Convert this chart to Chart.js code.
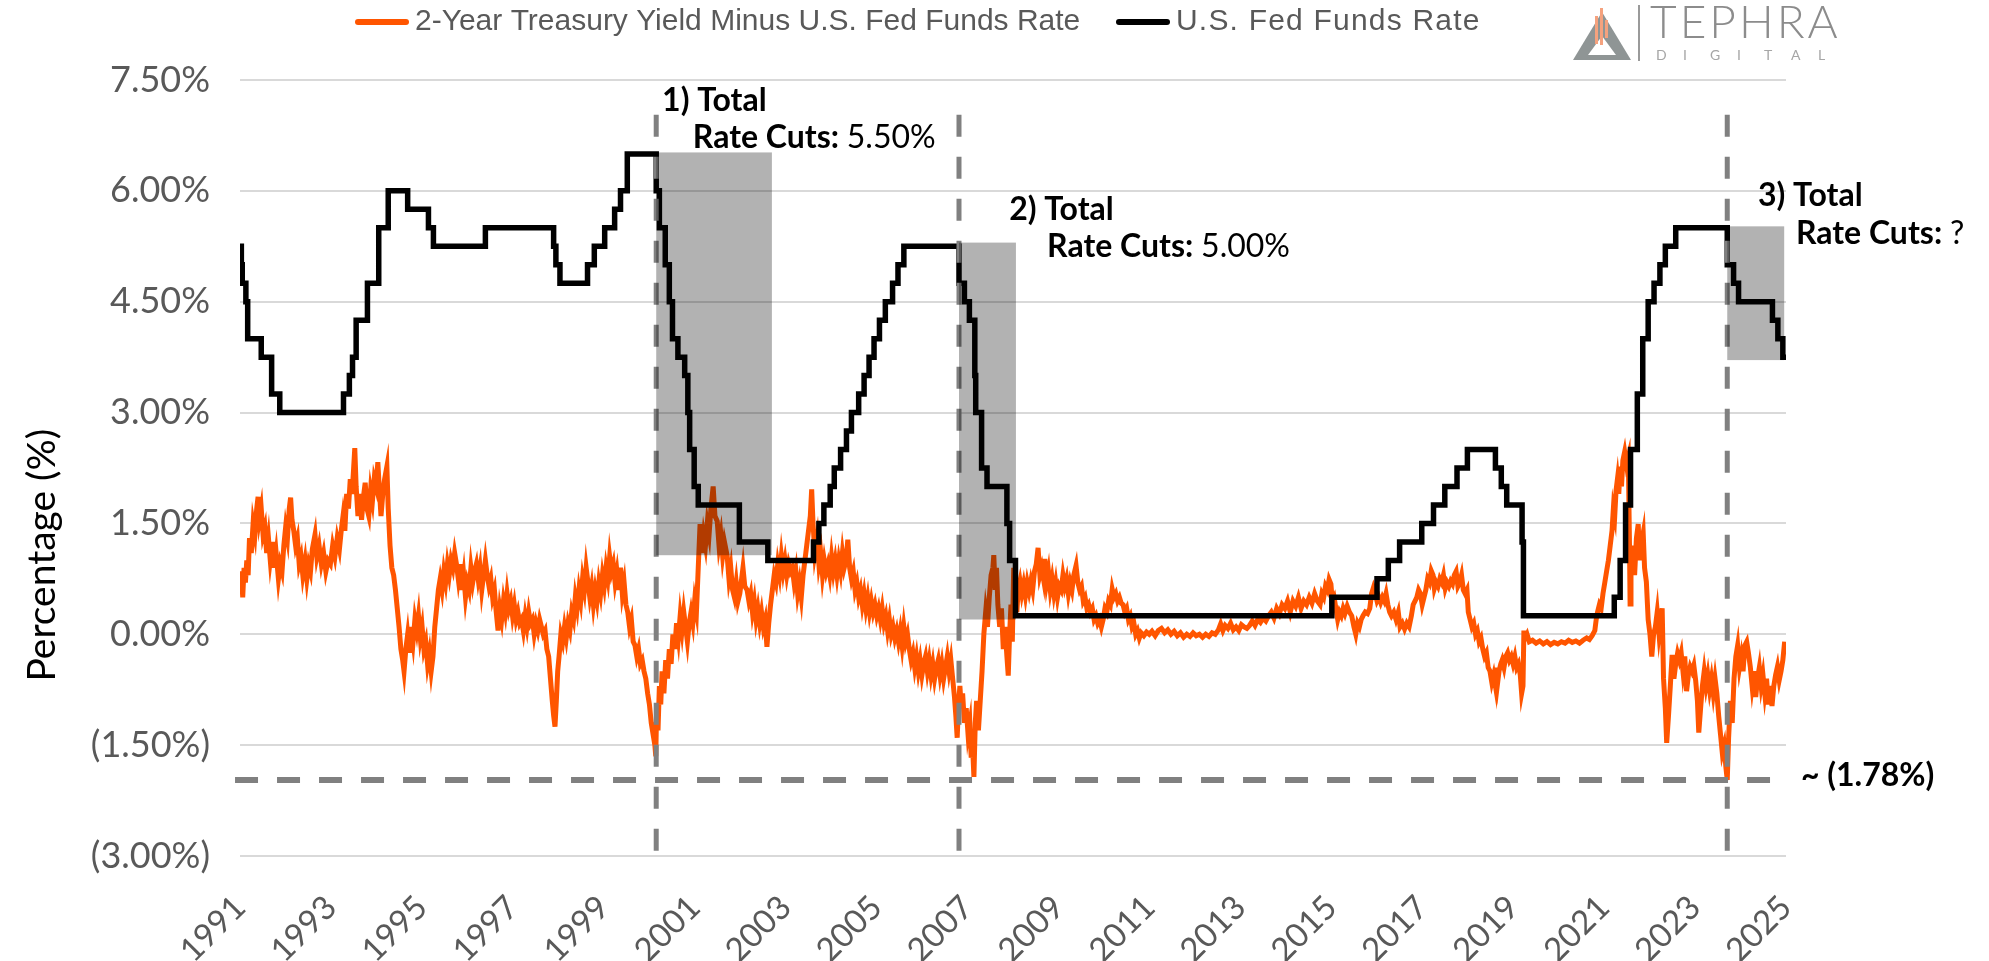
<!DOCTYPE html>
<html>
<head>
<meta charset="utf-8">
<title>2-Year Treasury Yield Minus Fed Funds Rate</title>
<script src="https://cdn.jsdelivr.net/npm/chart.js@4.4.1/dist/chart.umd.min.js"></script>
<style>
  html, body { margin: 0; padding: 0; background: #fff; }
  #wrap { width: 1989px; height: 961px; }
</style>
</head>
<body>
<div id="wrap"><canvas id="chart" width="1989" height="961"></canvas></div>
<script>
// Axis range (decimal years) and the labels Excel printed along it
const XMIN = 1991.80;
const XMAX = 2026.01;
const xTickLabels = ['1991', '1993', '1995', '1997', '1999', '2001', '2003', '2005', '2007',
    '2009', '2011', '2013', '2015', '2017', '2019', '2021', '2023', '2025'];

// U.S. Fed Funds target rate (upper bound): [date of change, new rate]
const fedSteps = [
    [1991.80, 5.25], [1991.83, 5.0], [1991.85, 4.75], [1991.93, 4.5], [1991.97, 4.0],
    [1992.27, 3.75], [1992.50, 3.25], [1992.68, 3.0],
    [1994.09, 3.25], [1994.22, 3.5], [1994.29, 3.75], [1994.37, 4.25], [1994.62, 4.75], [1994.87, 5.5],
    [1995.08, 6.0], [1995.51, 5.75], [1995.97, 5.5], [1996.08, 5.25], [1997.23, 5.5],
    [1998.74, 5.25], [1998.79, 5.0], [1998.88, 4.75],
    [1999.49, 5.0], [1999.64, 5.25], [1999.87, 5.5], [2000.09, 5.75], [2000.22, 6.0], [2000.37, 6.5],
    [2001.01, 6.0], [2001.08, 5.5], [2001.21, 5.0], [2001.30, 4.5], [2001.37, 4.0], [2001.49, 3.75],
    [2001.64, 3.5], [2001.71, 3.0], [2001.75, 2.5], [2001.85, 2.0], [2001.94, 1.75],
    [2002.85, 1.25], [2003.48, 1.0],
    [2004.49, 1.25], [2004.61, 1.5], [2004.72, 1.75], [2004.86, 2.0], [2004.95, 2.25],
    [2005.09, 2.5], [2005.22, 2.75], [2005.33, 3.0], [2005.49, 3.25], [2005.61, 3.5], [2005.72, 3.75],
    [2005.83, 4.0], [2005.95, 4.25], [2006.08, 4.5], [2006.24, 4.75], [2006.36, 5.0], [2006.49, 5.25],
    [2007.71, 4.75], [2007.83, 4.5], [2007.94, 4.25], [2008.06, 3.5], [2008.08, 3.0], [2008.21, 2.25],
    [2008.33, 2.0], [2008.77, 1.5], [2008.83, 1.0], [2008.96, 0.25],
    [2015.96, 0.5], [2016.96, 0.75], [2017.21, 1.0], [2017.46, 1.25], [2017.95, 1.5],
    [2018.21, 1.75], [2018.46, 2.0], [2018.73, 2.25], [2018.96, 2.5],
    [2019.58, 2.25], [2019.71, 2.0], [2019.83, 1.75], [2020.17, 1.25], [2020.20, 0.25],
    [2022.21, 0.5], [2022.34, 1.0], [2022.46, 1.75], [2022.57, 2.5], [2022.72, 3.25], [2022.84, 4.0],
    [2022.96, 4.5], [2023.09, 4.75], [2023.22, 5.0], [2023.34, 5.25], [2023.57, 5.5],
    [2024.71, 5.0], [2024.85, 4.75], [2024.96, 4.5], [2025.71, 4.25], [2025.83, 4.0], [2025.94, 3.75],
    [2026.01, 3.75]
];

// 2-Year Treasury yield minus Fed Funds rate: [date, spread %]
const spreadPoints = [
    [1991.80, 0.55], [1991.83, 0.85], [1991.86, 0.5], [1991.89, 0.9], [1991.92, 0.7], [1991.95, 1.0],
    [1991.98, 0.8], [1992.01, 1.3], [1992.05, 1.1], [1992.09, 1.5], [1992.13, 1.35], [1992.17, 1.7],
    [1992.20, 1.86], [1992.23, 1.55], [1992.27, 1.7], [1992.31, 1.35], [1992.35, 1.45], [1992.39, 1.1],
    [1992.43, 1.3], [1992.47, 1.0], [1992.52, 1.25], [1992.56, 0.9], [1992.60, 1.1], [1992.65, 0.75],
    [1992.69, 0.95], [1992.73, 0.85], [1992.77, 1.2], [1992.81, 1.45], [1992.85, 1.3], [1992.89, 1.7],
    [1992.92, 1.85], [1992.95, 1.55], [1992.99, 1.4], [1993.03, 1.2], [1993.07, 1.3], [1993.11, 0.95],
    [1993.15, 1.05], [1993.19, 0.8], [1993.24, 1.0], [1993.28, 0.75], [1993.32, 0.95], [1993.36, 0.85],
    [1993.40, 1.15], [1993.46, 1.35], [1993.50, 1.05], [1993.55, 1.2], [1993.60, 0.95], [1993.65, 1.1],
    [1993.70, 0.85], [1993.75, 1.0], [1993.80, 0.95], [1993.85, 1.2], [1993.90, 1.05], [1993.95, 1.3],
    [1994.00, 1.15], [1994.04, 1.4], [1994.08, 1.6], [1994.12, 1.4], [1994.16, 1.9], [1994.20, 1.7],
    [1994.24, 2.1], [1994.28, 1.9], [1994.31, 2.2], [1994.34, 2.52], [1994.37, 2.0], [1994.41, 1.6],
    [1994.45, 1.9], [1994.49, 1.55], [1994.53, 1.85], [1994.57, 2.05], [1994.61, 1.7], [1994.65, 1.6],
    [1994.69, 1.95], [1994.73, 1.8], [1994.77, 2.1], [1994.81, 2.0], [1994.85, 2.33], [1994.88, 2.0],
    [1994.92, 1.6], [1994.96, 1.9], [1995.00, 2.1], [1995.05, 2.27], [1995.08, 1.7], [1995.12, 1.2],
    [1995.16, 0.9], [1995.20, 0.8], [1995.24, 0.6], [1995.28, 0.35], [1995.32, 0.1], [1995.36, -0.2],
    [1995.40, -0.35], [1995.43, -0.5], [1995.47, -0.2], [1995.51, 0.0], [1995.55, -0.25], [1995.59, 0.1],
    [1995.63, -0.1], [1995.67, 0.2], [1995.71, 0.05], [1995.75, 0.25], [1995.79, -0.05], [1995.83, 0.1],
    [1995.87, -0.2], [1995.91, -0.1], [1995.95, -0.4], [1995.99, -0.25], [1996.03, -0.5], [1996.07, -0.3],
    [1996.11, 0.1], [1996.15, 0.35], [1996.19, 0.6], [1996.23, 0.75], [1996.27, 0.6], [1996.31, 0.85],
    [1996.35, 0.7], [1996.39, 0.95], [1996.43, 0.8], [1996.47, 1.0], [1996.51, 0.9], [1996.55, 1.1],
    [1996.59, 0.95], [1996.63, 0.75], [1996.67, 0.95], [1996.71, 0.6], [1996.75, 0.8], [1996.79, 0.5],
    [1996.83, 0.7], [1996.87, 0.6], [1996.91, 0.9], [1996.95, 0.7], [1996.99, 0.85], [1997.03, 0.95],
    [1997.07, 0.75], [1997.11, 0.9], [1997.15, 0.6], [1997.19, 0.8], [1997.23, 1.0], [1997.27, 0.8],
    [1997.31, 0.65], [1997.35, 0.75], [1997.39, 0.5], [1997.43, 0.6], [1997.47, 0.3], [1997.51, 0.05],
    [1997.55, 0.35], [1997.59, 0.2], [1997.63, 0.45], [1997.67, 0.3], [1997.71, 0.55], [1997.75, 0.35],
    [1997.79, 0.45], [1997.83, 0.25], [1997.87, 0.4], [1997.91, 0.2], [1997.95, 0.3], [1997.99, 0.15],
    [1998.03, 0.2], [1998.07, 0.05], [1998.11, 0.25], [1998.15, 0.1], [1998.19, 0.3], [1998.23, 0.15],
    [1998.27, 0.2], [1998.31, 0.0], [1998.35, 0.15], [1998.39, 0.05], [1998.43, 0.2], [1998.47, 0.1],
    [1998.51, 0.0], [1998.55, 0.05], [1998.59, -0.2], [1998.63, -0.3], [1998.67, -0.6], [1998.71, -0.9],
    [1998.74, -1.1], [1998.77, -1.25], [1998.80, -0.9], [1998.83, -0.5], [1998.86, -0.3], [1998.90, 0.0],
    [1998.94, -0.1], [1998.98, 0.1], [1999.02, -0.05], [1999.06, 0.15], [1999.10, 0.05], [1999.14, 0.3],
    [1999.18, 0.2], [1999.22, 0.5], [1999.26, 0.35], [1999.30, 0.6], [1999.34, 0.45], [1999.38, 0.75],
    [1999.42, 0.6], [1999.46, 0.9], [1999.50, 0.7], [1999.54, 0.5], [1999.58, 0.65], [1999.62, 0.4],
    [1999.66, 0.6], [1999.70, 0.45], [1999.74, 0.7], [1999.78, 0.55], [1999.82, 0.8], [1999.86, 0.65],
    [1999.90, 0.9], [1999.94, 0.75], [1999.98, 1.05], [2000.02, 0.85], [2000.06, 0.95], [2000.10, 0.7],
    [2000.14, 0.85], [2000.18, 0.6], [2000.22, 0.9], [2000.26, 0.55], [2000.30, 0.7], [2000.34, 0.4],
    [2000.38, 0.3], [2000.42, 0.1], [2000.46, 0.2], [2000.50, -0.1], [2000.54, -0.15], [2000.58, -0.3],
    [2000.62, -0.2], [2000.66, -0.4], [2000.70, -0.35], [2000.74, -0.5], [2000.78, -0.6], [2000.82, -0.8],
    [2000.86, -0.95], [2000.90, -1.2], [2000.94, -1.35], [2000.98, -1.5], [2001.00, -1.65], [2001.02, -1.0],
    [2001.05, -1.3], [2001.08, -0.7], [2001.11, -0.95], [2001.14, -0.5], [2001.18, -0.8], [2001.22, -0.35],
    [2001.26, -0.6], [2001.30, -0.2], [2001.34, -0.4], [2001.38, 0.0], [2001.42, -0.2], [2001.46, 0.15],
    [2001.50, -0.05], [2001.54, 0.25], [2001.58, 0.05], [2001.62, 0.3], [2001.66, 0.1], [2001.70, -0.1],
    [2001.74, 0.15], [2001.78, 0.3], [2001.82, 0.15], [2001.86, 0.45], [2001.90, 0.3], [2001.94, 0.9],
    [2001.98, 1.49], [2002.02, 1.1], [2002.06, 1.35], [2002.10, 1.2], [2002.14, 1.5], [2002.18, 1.35],
    [2002.22, 1.7], [2002.27, 2.0], [2002.31, 1.6], [2002.36, 1.53], [2002.40, 1.2], [2002.44, 1.35],
    [2002.48, 1.06], [2002.52, 1.25], [2002.58, 1.06], [2002.62, 0.75], [2002.66, 0.9], [2002.70, 0.6],
    [2002.74, 0.5], [2002.78, 0.7], [2002.82, 0.45], [2002.86, 0.55], [2002.90, 0.75], [2002.93, 0.9],
    [2002.97, 0.65], [2003.02, 0.6], [2003.06, 0.45], [2003.10, 0.55], [2003.14, 0.3], [2003.18, 0.45],
    [2003.22, 0.2], [2003.26, 0.35], [2003.30, 0.15], [2003.34, 0.3], [2003.38, 0.1], [2003.42, 0.2],
    [2003.46, -0.17], [2003.50, 0.15], [2003.54, 0.4], [2003.58, 0.6], [2003.62, 0.8], [2003.66, 0.7],
    [2003.70, 0.95], [2003.74, 0.8], [2003.78, 1.06], [2003.82, 0.85], [2003.86, 1.0], [2003.90, 0.8],
    [2003.94, 0.95], [2003.98, 0.85], [2004.02, 0.9], [2004.06, 0.7], [2004.10, 0.85], [2004.14, 0.55],
    [2004.18, 0.7], [2004.22, 0.5], [2004.26, 0.8], [2004.30, 1.0], [2004.34, 1.2], [2004.38, 1.4],
    [2004.42, 1.6], [2004.45, 1.96], [2004.48, 1.5], [2004.52, 1.1], [2004.57, 1.3], [2004.61, 0.95],
    [2004.65, 1.1], [2004.69, 0.8], [2004.73, 1.0], [2004.77, 0.85], [2004.81, 0.95], [2004.85, 0.8],
    [2004.89, 1.05], [2004.93, 0.85], [2004.97, 1.0], [2005.01, 0.8], [2005.05, 1.0], [2005.09, 0.85],
    [2005.13, 1.1], [2005.17, 0.9], [2005.21, 1.0], [2005.25, 1.28], [2005.29, 0.9], [2005.33, 0.75],
    [2005.37, 0.85], [2005.41, 0.6], [2005.45, 0.7], [2005.49, 0.5], [2005.53, 0.6], [2005.57, 0.4],
    [2005.61, 0.55], [2005.65, 0.35], [2005.69, 0.5], [2005.73, 0.3], [2005.77, 0.45], [2005.81, 0.3],
    [2005.85, 0.4], [2005.89, 0.25], [2005.93, 0.35], [2005.97, 0.2], [2006.01, 0.35], [2006.05, 0.15],
    [2006.09, 0.25], [2006.13, 0.05], [2006.17, 0.2], [2006.21, 0.0], [2006.25, 0.1], [2006.29, -0.05],
    [2006.33, 0.05], [2006.37, -0.1], [2006.41, 0.05], [2006.45, -0.15], [2006.49, 0.1], [2006.53, -0.1],
    [2006.57, 0.0], [2006.61, -0.2], [2006.65, -0.35], [2006.69, -0.25], [2006.73, -0.45], [2006.77, -0.3],
    [2006.81, -0.5], [2006.85, -0.35], [2006.89, -0.55], [2006.93, -0.4], [2006.97, -0.3], [2007.01, -0.5],
    [2007.05, -0.35], [2007.09, -0.55], [2007.13, -0.4], [2007.17, -0.6], [2007.21, -0.45], [2007.25, -0.35],
    [2007.29, -0.55], [2007.33, -0.4], [2007.37, -0.6], [2007.41, -0.45], [2007.45, -0.3], [2007.49, -0.5],
    [2007.53, -0.35], [2007.57, -0.6], [2007.61, -0.85], [2007.64, -1.1], [2007.67, -1.4], [2007.70, -0.95],
    [2007.73, -0.7], [2007.76, -1.0], [2007.79, -0.8], [2007.83, -1.2], [2007.87, -1.0], [2007.91, -1.35],
    [2007.95, -1.2], [2007.98, -1.67], [2008.01, -1.5], [2008.04, -1.93], [2008.07, -1.2], [2008.10, -0.9],
    [2008.14, -1.3], [2008.18, -0.9], [2008.22, -0.5], [2008.26, 0.0], [2008.30, 0.3], [2008.34, 0.1],
    [2008.38, 0.5], [2008.42, 0.8], [2008.46, 0.9], [2008.48, 1.07], [2008.51, 0.6], [2008.54, 0.9],
    [2008.57, 0.4], [2008.61, 0.1], [2008.65, 0.35], [2008.69, -0.2], [2008.73, 0.1], [2008.77, -0.3],
    [2008.80, -0.56], [2008.83, 0.0], [2008.86, 0.4], [2008.89, -0.1], [2008.92, 0.9], [2008.95, 0.5],
    [2008.99, 0.3], [2009.02, 0.6], [2009.06, 0.72], [2009.10, 0.55], [2009.14, 0.68], [2009.18, 0.52],
    [2009.22, 0.7], [2009.26, 0.58], [2009.30, 0.72], [2009.34, 0.6], [2009.38, 0.85], [2009.42, 0.95],
    [2009.46, 1.17], [2009.50, 0.8], [2009.54, 0.9], [2009.58, 0.75], [2009.61, 1.02], [2009.65, 0.7],
    [2009.69, 0.85], [2009.73, 0.6], [2009.77, 0.75], [2009.81, 0.55], [2009.85, 0.7], [2009.89, 0.5],
    [2009.93, 0.65], [2009.97, 0.6], [2010.01, 0.8], [2010.05, 0.65], [2010.09, 0.75], [2010.13, 0.55],
    [2010.17, 0.7], [2010.21, 0.6], [2010.25, 0.8], [2010.30, 0.93], [2010.34, 0.7], [2010.38, 0.6],
    [2010.42, 0.65], [2010.46, 0.45], [2010.50, 0.5], [2010.54, 0.35], [2010.58, 0.4], [2010.62, 0.3],
    [2010.66, 0.35], [2010.70, 0.2], [2010.74, 0.25], [2010.78, 0.15], [2010.82, 0.2], [2010.86, 0.1],
    [2010.90, 0.2], [2010.94, 0.35], [2010.98, 0.3], [2011.02, 0.45], [2011.06, 0.4], [2011.10, 0.61],
    [2011.14, 0.5], [2011.18, 0.55], [2011.22, 0.45], [2011.26, 0.5], [2011.30, 0.42], [2011.34, 0.4],
    [2011.38, 0.3], [2011.42, 0.35], [2011.46, 0.2], [2011.50, 0.25], [2011.54, 0.1], [2011.58, 0.15],
    [2011.62, 0.0], [2011.66, 0.05], [2011.70, -0.05], [2011.74, 0.02], [2011.80, -0.02], [2011.86, 0.03],
    [2011.92, 0.0], [2011.98, 0.04], [2012.05, -0.02], [2012.12, 0.05], [2012.19, 0.08], [2012.26, 0.02],
    [2012.33, 0.06], [2012.40, 0.0], [2012.47, 0.04], [2012.54, -0.02], [2012.61, 0.02], [2012.68, -0.04],
    [2012.75, 0.0], [2012.82, -0.03], [2012.89, 0.02], [2012.96, -0.02], [2013.03, 0.0], [2013.10, -0.04],
    [2013.17, 0.0], [2013.24, -0.03], [2013.31, 0.02], [2013.38, 0.0], [2013.45, 0.06], [2013.50, 0.14],
    [2013.55, 0.05], [2013.60, 0.12], [2013.66, 0.08], [2013.72, 0.15], [2013.78, 0.06], [2013.84, 0.1],
    [2013.90, 0.05], [2013.96, 0.13], [2014.02, 0.1], [2014.08, 0.08], [2014.14, 0.12], [2014.20, 0.18],
    [2014.26, 0.12], [2014.32, 0.2], [2014.38, 0.16], [2014.44, 0.22], [2014.50, 0.18], [2014.56, 0.25],
    [2014.62, 0.3], [2014.68, 0.22], [2014.74, 0.35], [2014.80, 0.28], [2014.86, 0.4], [2014.92, 0.35],
    [2014.98, 0.45], [2015.04, 0.3], [2015.10, 0.45], [2015.16, 0.38], [2015.22, 0.5], [2015.28, 0.35],
    [2015.34, 0.45], [2015.40, 0.4], [2015.46, 0.5], [2015.52, 0.42], [2015.58, 0.55], [2015.64, 0.45],
    [2015.70, 0.4], [2015.74, 0.55], [2015.78, 0.5], [2015.82, 0.65], [2015.86, 0.6], [2015.90, 0.74],
    [2015.94, 0.68], [2015.97, 0.45], [2016.01, 0.5], [2016.05, 0.35], [2016.09, 0.2], [2016.13, 0.3],
    [2016.17, 0.25], [2016.21, 0.35], [2016.25, 0.28], [2016.30, 0.38], [2016.35, 0.3], [2016.40, 0.25],
    [2016.45, 0.1], [2016.49, 0.0], [2016.53, 0.15], [2016.57, 0.1], [2016.61, 0.2], [2016.65, 0.25],
    [2016.70, 0.3], [2016.75, 0.28], [2016.80, 0.35], [2016.84, 0.55], [2016.88, 0.63], [2016.92, 0.55],
    [2016.96, 0.45], [2017.00, 0.5], [2017.04, 0.43], [2017.08, 0.5], [2017.12, 0.45], [2017.16, 0.55],
    [2017.20, 0.4], [2017.24, 0.3], [2017.28, 0.25], [2017.33, 0.3], [2017.38, 0.2], [2017.43, 0.3],
    [2017.47, 0.1], [2017.52, 0.15], [2017.57, 0.07], [2017.62, 0.15], [2017.67, 0.1], [2017.72, 0.25],
    [2017.76, 0.4], [2017.80, 0.45], [2017.84, 0.5], [2017.88, 0.6], [2017.92, 0.55], [2017.96, 0.4],
    [2018.00, 0.5], [2018.04, 0.6], [2018.08, 0.75], [2018.12, 0.7], [2018.16, 0.86], [2018.20, 0.8],
    [2018.23, 0.62], [2018.27, 0.7], [2018.31, 0.65], [2018.35, 0.75], [2018.39, 0.7], [2018.43, 0.8],
    [2018.47, 0.62], [2018.51, 0.7], [2018.55, 0.65], [2018.59, 0.72], [2018.63, 0.68], [2018.67, 0.8],
    [2018.71, 0.85], [2018.75, 0.65], [2018.79, 0.7], [2018.83, 0.8], [2018.87, 0.6], [2018.91, 0.55],
    [2018.95, 0.6], [2018.98, 0.3], [2019.02, 0.2], [2019.06, 0.1], [2019.10, 0.15], [2019.14, 0.0],
    [2019.18, 0.05], [2019.22, -0.1], [2019.26, -0.05], [2019.30, -0.2], [2019.34, -0.3], [2019.38, -0.25],
    [2019.42, -0.45], [2019.46, -0.5], [2019.50, -0.65], [2019.54, -0.55], [2019.58, -0.7], [2019.60, -0.45],
    [2019.63, -0.65], [2019.66, -0.5], [2019.70, -0.4], [2019.73, -0.35], [2019.77, -0.45], [2019.81, -0.3],
    [2019.85, -0.25], [2019.89, -0.35], [2019.93, -0.3], [2019.97, -0.4], [2020.01, -0.3], [2020.05, -0.45],
    [2020.09, -0.4], [2020.13, -0.55], [2020.16, -0.8], [2020.19, -0.7], [2020.21, 0.05], [2020.24, -0.05],
    [2020.28, 0.0], [2020.33, -0.1], [2020.40, -0.08], [2020.48, -0.12], [2020.56, -0.09], [2020.64, -0.13],
    [2020.72, -0.1], [2020.80, -0.14], [2020.88, -0.11], [2020.96, -0.13], [2021.04, -0.1], [2021.12, -0.12],
    [2021.20, -0.08], [2021.28, -0.11], [2021.36, -0.09], [2021.44, -0.12], [2021.52, -0.08], [2021.60, -0.05],
    [2021.66, -0.07], [2021.72, -0.02], [2021.78, 0.05], [2021.81, 0.2], [2021.84, 0.3], [2021.88, 0.4],
    [2021.92, 0.35], [2021.96, 0.55], [2022.00, 0.7], [2022.04, 0.85], [2022.08, 1.0], [2022.12, 1.2],
    [2022.16, 1.4], [2022.19, 1.7], [2022.22, 1.6], [2022.25, 1.95], [2022.28, 2.1], [2022.31, 1.9],
    [2022.34, 2.27], [2022.37, 2.0], [2022.40, 2.35], [2022.44, 2.47], [2022.48, 2.3], [2022.52, 2.4],
    [2022.545, 1.3], [2022.56, 0.41], [2022.58, 1.0], [2022.62, 1.2], [2022.66, 0.8], [2022.70, 1.3],
    [2022.74, 1.49], [2022.77, 1.0], [2022.80, 1.2], [2022.85, 1.37], [2022.88, 0.9], [2022.92, 0.71],
    [2022.96, 0.2], [2023.00, 0.0], [2023.04, -0.3], [2023.08, 0.0], [2023.12, 0.1], [2023.16, 0.3],
    [2023.20, 0.0], [2023.24, 0.2], [2023.27, 0.35], [2023.30, -0.6], [2023.34, -1.0], [2023.37, -1.47],
    [2023.41, -1.1], [2023.45, -0.7], [2023.49, -0.28], [2023.53, -0.6], [2023.57, -0.4], [2023.61, -0.26],
    [2023.65, -0.35], [2023.69, -0.25], [2023.73, -0.5], [2023.77, -0.3], [2023.81, -0.77], [2023.85, -0.55],
    [2023.89, -0.44], [2023.93, -0.5], [2023.97, -0.42], [2024.01, -0.62], [2024.05, -0.9], [2024.08, -1.33],
    [2024.12, -1.0], [2024.16, -0.7], [2024.20, -0.5], [2024.24, -0.7], [2024.28, -0.55], [2024.32, -0.75],
    [2024.36, -0.6], [2024.40, -0.8], [2024.44, -0.6], [2024.48, -0.8], [2024.52, -1.1], [2024.56, -1.35],
    [2024.60, -1.6], [2024.64, -1.5], [2024.68, -1.8], [2024.71, -1.97], [2024.74, -1.4], [2024.78, -0.9],
    [2024.82, -1.2], [2024.86, -0.6], [2024.90, -0.3], [2024.94, -0.15], [2024.98, -0.45], [2025.02, -0.3],
    [2025.06, -0.5], [2025.10, -0.15], [2025.14, -0.1], [2025.18, -0.26], [2025.22, -0.44], [2025.26, -0.7],
    [2025.30, -0.5], [2025.34, -0.85], [2025.38, -0.6], [2025.42, -0.45], [2025.46, -0.7], [2025.50, -0.55],
    [2025.54, -0.8], [2025.58, -0.6], [2025.62, -0.95], [2025.66, -0.7], [2025.70, -0.97], [2025.74, -0.7],
    [2025.78, -0.55], [2025.82, -0.44], [2025.86, -0.62], [2025.90, -0.5], [2025.94, -0.35], [2025.98, -0.1]
];

// Easing cycles: first cut, last cut, rate before cuts, rate after cuts
const cutStart = [2001.01, 2007.71, 2024.71];
const cutEnd = [2003.57, 2008.97, 2025.97];
const cutHigh = [6.52, 5.30, 5.52];
const cutLow = [1.07, 0.20, 3.71];
const cutTotals = ['5.50%', '5.00%', '?'];

// Spread low marker
const spreadLow = -1.97;
const spreadLowLabel = '~ (1.78%)';

const ORANGE = '#FF5500';
const GREY_TEXT = '#595959';

function pctLabel(v) {
    const r = Math.round(v * 100) / 100;
    if (r < 0) return '(' + Math.abs(r).toFixed(2) + '%)';
    return r.toFixed(2) + '%';
}

// Draw text made of [string, weight] pieces starting at x
function drawPieces(ctx, pieces, x, y, size) {
    pieces.forEach(p => {
        ctx.font = p[1] + ' ' + size + 'px Lato, sans-serif';
        ctx.fillText(p[0], x, y);
        x += ctx.measureText(p[0]).width;
    });
}

const decorPlugin = {
    id: 'decor',
    afterDatasetsDraw(chart) {
        const ctx = chart.ctx;
        const xs = chart.scales.x, ys = chart.scales.y;

        // shaded easing windows
        ctx.save();
        ctx.fillStyle = 'rgba(0,0,0,0.3)';
        cutStart.forEach((c, i) => {
            const x0 = xs.getPixelForValue(c), x1 = xs.getPixelForValue(cutEnd[i]);
            const y0 = ys.getPixelForValue(cutHigh[i]), y1 = ys.getPixelForValue(cutLow[i]);
            ctx.fillRect(x0, y0, x1 - x0, y1 - y0);
        });
        ctx.restore();
    },
    afterDraw(chart) {
        const ctx = chart.ctx;
        const xs = chart.scales.x, ys = chart.scales.y;
        ctx.save();

        // annotations next to each easing window
        ctx.fillStyle = '#000';
        ctx.textBaseline = 'middle';
        ctx.textAlign = 'left';
        const notePos = [
            [2001.14, 7.22, 2001.82, 6.72],
            [2008.82, 5.75, 2009.66, 5.24],
            [2025.39, 5.93, 2026.23, 5.42]
        ];
        notePos.forEach((p, i) => {
            drawPieces(ctx, [[(i + 1) + ') Total', 'bold']], xs.getPixelForValue(p[0]), ys.getPixelForValue(p[1]), 32);
            drawPieces(ctx, [['Rate Cuts: ', 'bold'], [cutTotals[i], 'normal']],
                xs.getPixelForValue(p[2]), ys.getPixelForValue(p[3]), 32);
        });
        drawPieces(ctx, [[spreadLowLabel, 'bold']], xs.getPixelForValue(2026.34), ys.getPixelForValue(spreadLow + 0.05), 32);

        // y axis title
        ctx.save();
        ctx.translate(42, ys.getPixelForValue(1.07));
        ctx.rotate(-Math.PI / 2);
        ctx.textAlign = 'center';
        ctx.font = '39px Lato, sans-serif';
        ctx.fillText('Percentage (%)', 0, 0);
        ctx.restore();

        // legend
        ctx.font = '30px "Liberation Sans", Arial, sans-serif';
        ctx.fillStyle = GREY_TEXT;
        const legendX = [355, 1116];
        const legendSpacing = ['0px', '1.2px'];
        chart.data.datasets.slice(0, 2).forEach((ds, i) => {
            const lx = legendX[i];
            ctx.strokeStyle = ds.borderColor;
            ctx.lineWidth = 6;
            ctx.lineCap = 'round';
            ctx.beginPath();
            ctx.moveTo(lx + 3, 22);
            ctx.lineTo(lx + 51, 22);
            ctx.stroke();
            ctx.letterSpacing = legendSpacing[i];
            ctx.fillText(ds.label, lx + 60, 22);
        });
        ctx.letterSpacing = '0px';

        // logo
        ctx.fillStyle = '#8f9595';
        ctx.beginPath();
        ctx.moveTo(1573, 60); ctx.lineTo(1631, 60); ctx.lineTo(1602, 12);
        ctx.closePath(); ctx.fill();
        ctx.fillStyle = '#fff';
        ctx.beginPath();
        ctx.moveTo(1588, 55); ctx.lineTo(1616, 55); ctx.lineTo(1602, 36);
        ctx.closePath(); ctx.fill();
        ctx.fillStyle = '#f5a27e';
        ctx.fillRect(1595, 16, 3, 28);
        ctx.fillRect(1600, 8, 3, 37);
        ctx.fillRect(1605, 20, 3, 18);
        ctx.fillStyle = '#9a9a9a';
        ctx.fillRect(1638, 5, 2, 56);
        ctx.fillStyle = '#8c8c8c';
        ctx.font = '300 46px Lato, sans-serif';
        ctx.letterSpacing = '3px';
        ctx.textBaseline = 'alphabetic';
        ctx.fillText('TEPHRA', 1650, 38);
        ctx.letterSpacing = '0px';
        ctx.fillStyle = '#a6a6a6';
        ctx.font = '14px Lato, sans-serif';
        'DIGITAL'.split('').forEach((ch, i) => ctx.fillText(ch, 1656 + i * 27, 60));

        ctx.restore();
    }
};

const datasets = [
    {
        label: '2-Year Treasury Yield Minus U.S. Fed Funds Rate',
        data: spreadPoints.map(p => ({ x: p[0], y: p[1] })),
        borderColor: ORANGE,
        borderWidth: 5,
        order: 2
    },
    {
        label: 'U.S. Fed Funds Rate',
        data: fedSteps.map(p => ({ x: p[0], y: p[1] })),
        borderColor: '#000',
        borderWidth: 5.5,
        stepped: true,
        order: 1
    }
];
cutStart.forEach(c => {
    datasets.push({
        label: '',
        data: [{ x: c, y: 7.03 }, { x: c, y: -2.95 }],
        borderColor: '#808080',
        borderWidth: 5,
        borderDash: [22, 20],
        order: 0
    });
});
datasets.push({
    label: '',
    data: [{ x: 1991.69, y: spreadLow }, { x: 2025.70, y: spreadLow }],
    borderColor: '#808080',
    borderWidth: 6,
    borderDash: [23, 19],
    clip: false,
    order: 0
});

const chart = new Chart(document.getElementById('chart').getContext('2d'), {
    type: 'line',
    data: { datasets: datasets },
    options: {
        responsive: false,
        animation: false,
        devicePixelRatio: 1,
        elements: {
            point: { radius: 0 },
            line: { tension: 0, borderJoinStyle: 'miter' }
        },
        layout: { padding: { left: 56, right: 203, top: 80, bottom: 0 } },
        plugins: {
            legend: { display: false },
            tooltip: { enabled: false }
        },
        scales: {
            x: {
                type: 'linear',
                min: XMIN,
                max: XMAX,
                grid: { display: false },
                border: { display: false },
                afterBuildTicks(scale) {
                    const step = (XMAX - XMIN) / (xTickLabels.length - 1);
                    scale.ticks = xTickLabels.map((l, i) => ({ value: XMIN + i * step }));
                },
                afterFit(scale) { scale.height = 105; },
                ticks: {
                    autoSkip: false,
                    minRotation: 45,
                    maxRotation: 45,
                    padding: 24,
                    color: GREY_TEXT,
                    font: { family: 'Lato', size: 33 },
                    callback: (v, i) => xTickLabels[i]
                }
            },
            y: {
                min: -3,
                max: 7.5,
                afterFit(scale) { scale.width = 184; },
                grid: { color: '#d9d9d9', lineWidth: 2, drawTicks: false },
                border: { display: false },
                ticks: {
                    stepSize: 1.5,
                    padding: 30,
                    color: GREY_TEXT,
                    font: { family: 'Lato', size: 36 },
                    callback: v => pctLabel(v)
                }
            }
        }
    },
    plugins: [decorPlugin]
});
</script>
</body>
</html>
